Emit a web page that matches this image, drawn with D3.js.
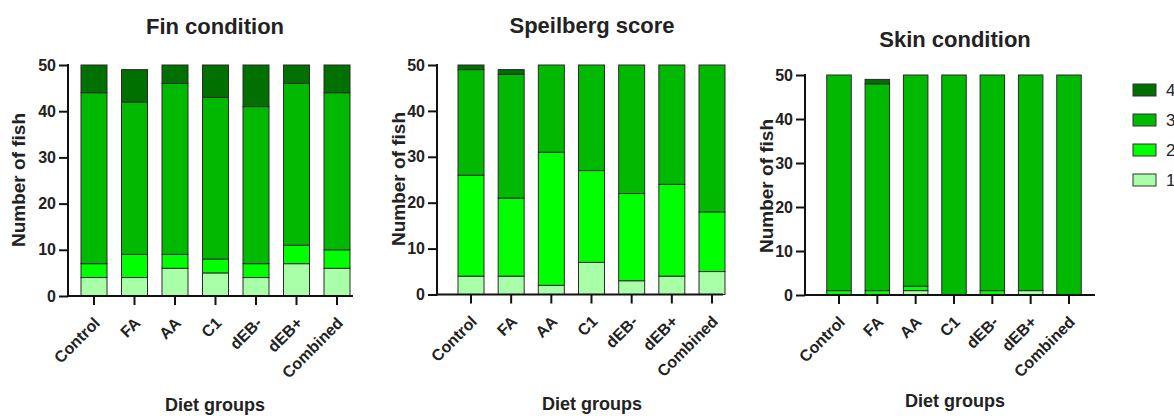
<!DOCTYPE html>
<html>
<head>
<meta charset="utf-8">
<script src="https://cdn.jsdelivr.net/npm/d3@7"></script>
<style>
  body { margin: 0; background: #fff; }
  svg { display: block; font-family: "Liberation Sans", Arial, sans-serif; }
</style>
</head>
<body>
<svg id="chart" width="1174" height="416"></svg>
<script>
// diet groups and score categories
var groups = ["Control", "FA", "AA", "C1", "dEB-", "dEB+", "Combined"];
var scores = ["1", "2", "3", "4"];
var yTicks = [0, 10, 20, 30, 40, 50];

// Fin condition, number of fish per score
var fin1 = [4, 4, 6, 5, 4, 7, 6];
var fin2 = [3, 5, 3, 3, 3, 4, 4];
var fin3 = [37, 33, 37, 35, 34, 35, 34];
var fin4 = [6, 7, 4, 7, 9, 4, 6];

// Speilberg score
var spe1 = [4, 4, 2, 7, 3, 4, 5];
var spe2 = [22, 17, 29, 20, 19, 20, 13];
var spe3 = [23, 27, 19, 23, 28, 26, 32];
var spe4 = [1, 1, 0, 0, 0, 0, 0];

// Skin condition
var skin1 = [0, 0, 1, 0, 0, 1, 0];
var skin2 = [1, 1, 1, 0, 1, 0, 0];
var skin3 = [49, 47, 48, 50, 49, 49, 50];
var skin4 = [0, 1, 0, 0, 0, 0, 0];

var colors = {"1": "#a8ffa8", "2": "#00ff00", "3": "#00b900", "4": "#007000"};

var svg = d3.select("#chart");

function toRows(s1, s2, s3, s4) {
  return groups.map(function(g, i) {
    return {group: g, "1": s1[i], "2": s2[i], "3": s3[i], "4": s4[i]};
  });
}

// one panel of the figure
function drawPanel(p) {
  var rows = toRows.apply(null, p.series);
  var stack = d3.stack().keys(scores)(rows);

  var step = (p.lastC - p.firstC) / (groups.length - 1);
  var pad = 1 - p.bw / step;
  var x = d3.scaleBand()
    .domain(groups)
    .range([p.firstC - step / 2, p.lastC + step / 2])
    .paddingInner(pad)
    .paddingOuter(pad / 2);

  var y = d3.scaleLinear().domain([0, 50]).range([p.bottom, p.top]);

  var g = svg.append("g");

  // bars
  g.selectAll(".layer")
    .data(stack)
    .enter()
    .append("g")
      .attr("fill", function(d) { return colors[d.key]; })
    .selectAll("rect")
    .data(function(d) { return d; })
    .enter()
    .append("rect")
      .attr("x", function(d) { return x(d.data.group); })
      .attr("y", function(d) { return y(d[1]); })
      .attr("width", x.bandwidth())
      .attr("height", function(d) { return y(d[0]) - y(d[1]); })
      .attr("stroke", "#2a2a2a")
      .attr("stroke-width", 1);

  // y axis
  var yAxis = g.append("g")
    .attr("transform", "translate(" + p.axisLeft + ",0)")
    .call(d3.axisLeft(y).tickValues(yTicks).tickSize(9).tickPadding(3));
  yAxis.select(".domain").attr("stroke", "#111").attr("stroke-width", 2)
    .attr("d", "M0," + (p.top - 1) + "V" + (p.bottom + 1));
  yAxis.selectAll(".tick line").attr("stroke", "#111").attr("stroke-width", 2);
  yAxis.selectAll(".tick text")
    .attr("font-size", 16).attr("font-weight", "bold").attr("fill", "#222");

  // x axis
  var xAxis = g.append("g")
    .attr("transform", "translate(0," + p.bottom + ")")
    .call(d3.axisBottom(x).tickSize(9).tickSizeOuter(0));
  xAxis.select(".domain").attr("stroke", "#111").attr("stroke-width", 2)
    .attr("d", "M" + (p.axisLeft - 1) + ",0H" + p.axisRight);
  xAxis.selectAll(".tick line").attr("stroke", "#111").attr("stroke-width", 2);
  xAxis.selectAll(".tick text")
    .attr("font-size", 16).attr("font-weight", "bold").attr("fill", "#222")
    .attr("text-anchor", "end")
    .attr("dy", null).attr("y", null)
    .attr("transform", "translate(7,28) rotate(-45)");

  // titles
  g.append("text")
    .attr("x", p.titleX).attr("y", p.titleY)
    .attr("text-anchor", "middle")
    .attr("font-size", 22).attr("font-weight", "bold").attr("fill", "#222")
    .text(p.title);

  g.append("text")
    .attr("transform", "translate(" + p.yLabelX + "," + p.yLabelY + ") rotate(-90)")
    .attr("text-anchor", "middle")
    .attr("font-size", 19).attr("font-weight", "bold").attr("fill", "#222")
    .text("Number of fish");

  g.append("text")
    .attr("x", p.titleX).attr("y", p.xLabelY)
    .attr("text-anchor", "middle")
    .attr("font-size", 18).attr("font-weight", "bold").attr("fill", "#222")
    .text("Diet groups");
}

drawPanel({
  series: [fin1, fin2, fin3, fin4], title: "Fin condition",
  firstC: 94, lastC: 337, bw: 26, top: 65, bottom: 296,
  axisLeft: 68, axisRight: 353, titleX: 215, titleY: 34,
  yLabelX: 25, yLabelY: 180, xLabelY: 411
});

drawPanel({
  series: [spe1, spe2, spe3, spe4], title: "Speilberg score",
  firstC: 471, lastC: 712, bw: 26, top: 65, bottom: 294.5,
  axisLeft: 437, axisRight: 723, titleX: 592, titleY: 33,
  yLabelX: 405, yLabelY: 179, xLabelY: 410
});

drawPanel({
  series: [skin1, skin2, skin3, skin4], title: "Skin condition",
  firstC: 839, lastC: 1069, bw: 24.5, top: 75, bottom: 295,
  axisLeft: 805, axisRight: 1095, titleX: 955, titleY: 47,
  yLabelX: 773, yLabelY: 186, xLabelY: 407
});

// legend (highest score on top)
var legendScores = scores.slice().reverse();
var ly = d3.scalePoint().domain(legendScores).range([90, 180]);
var legend = svg.append("g").selectAll("g")
  .data(legendScores)
  .enter()
  .append("g")
    .attr("transform", function(d) { return "translate(1133," + ly(d) + ")"; });
legend.append("rect")
  .attr("x", 0).attr("y", -6).attr("width", 23).attr("height", 12)
  .attr("fill", function(d) { return colors[d]; })
  .attr("stroke", "#333").attr("stroke-width", 1);
legend.append("text")
  .attr("x", 33).attr("y", 6)
  .attr("font-size", 17).attr("fill", "#222")
  .text(function(d) { return d; });
</script>
</body>
</html>
